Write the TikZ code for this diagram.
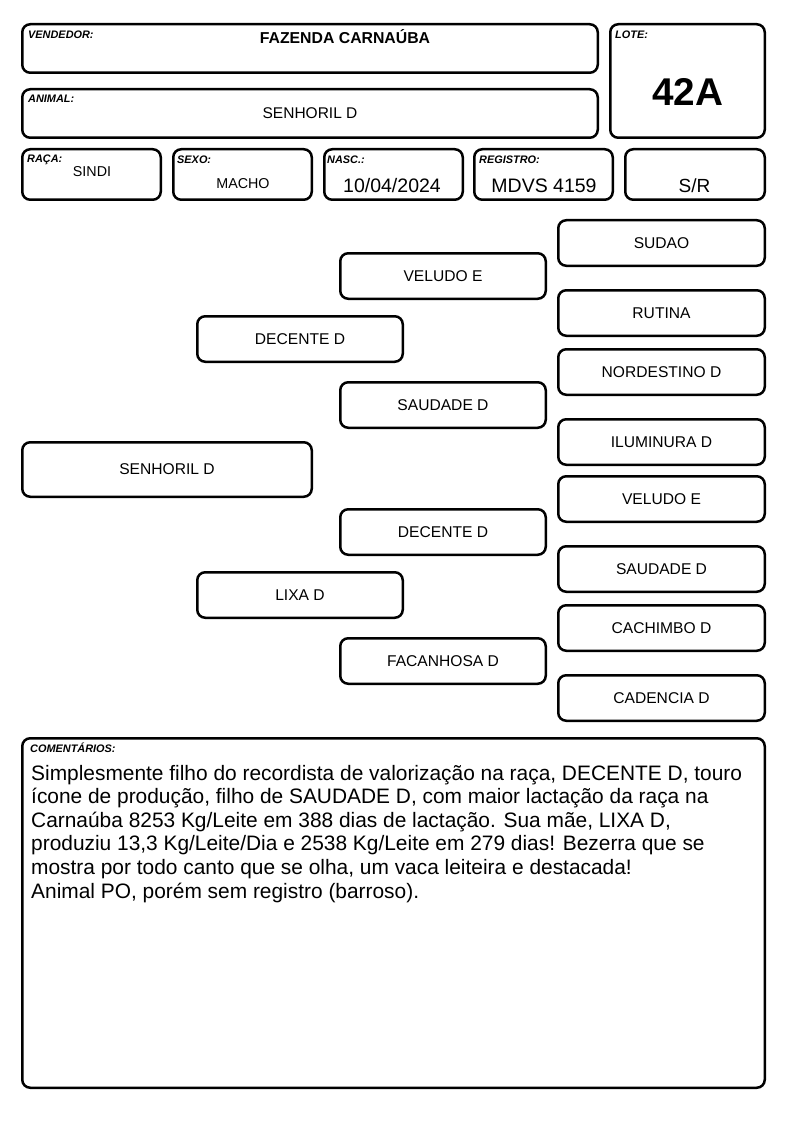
\documentclass[tikz,border=0pt]{standalone}
\usepackage{fontspec}
\setmainfont{Liberation Sans}
\newcommand\fs[1]{\fontsize{#1}{#1}\selectfont}
\begin{document}
\begin{tikzpicture}[x=1pt,y=-1pt,
  frame/.style={draw,line width=2.5pt,rounded corners=8pt,inner sep=0pt},
  tag/.style={inner sep=0pt,anchor=base west,font=\fs{10.9}\bfseries\itshape},
  val/.style={inner sep=0pt,anchor=base,font=\fs{15.5}},
  big/.style={inner sep=0pt,anchor=base,font=\fs{19.5}},
  pname/.style={font=\fs{15.6}},
  cmt/.style={inner sep=0pt,anchor=base west,font=\fs{20.9}}]
\useasboundingbox (0,0) rectangle (794,1123);
\newcommand\bx[6]{\node[frame,minimum width={#4-#2-2.5pt},minimum height={#5-#3-2.5pt},pname] (#1) at ({(#2+#4)/2},{(#3+#5)/2}) {#6};}
% header frames
\bx{vend}{21}{23}{599}{74}{}
\bx{lote}{609}{23}{766}{139}{}
\bx{anim}{21}{88}{599}{139}{}
\bx{raca}{21}{148}{162}{201}{}
\bx{sexo}{172}{148}{313}{201}{}
\bx{nasc}{323}{148}{464}{201}{}
\bx{reg}{473}{148}{614}{201}{}
\bx{sr}{624}{148}{766}{201}{}
% header labels
\node[tag] (tvend) at (28,39) {VENDEDOR:};
\node[tag] (tanim) at (28,103) {ANIMAL:};
\node[tag] (traca) at (27,163) {RAÇA:};
\node[tag] (tsexo) at (177,164) {SEXO:};
\node[tag] (tnasc) at (327,164) {NASC.:};
\node[tag] (treg) at (479,164) {REGISTRO:};
\node[tag] (tlote) at (615,39) {LOTE:};
% header values
\node[inner sep=0pt,anchor=base,font=\fs{15.8}\bfseries] (vvend) at (345,43.7) {FAZENDA CARNAÚBA};
\node[val] (vanim) at (310,118.5) {SENHORIL D};
\node[val,font=\fs{14.3}] (vraca) at (92,177) {SINDI};
\node[val,font=\fs{14.3}] (vsexo) at (243,189) {MACHO};
\node[big] (vnasc) at (392,193) {10/04/2024};
\node[big] (vreg) at (544,193) {MDVS 4159};
\node[big,font=\fs{19}] (vsr) at (694.5,193) {S/R};
\node[inner sep=0pt,anchor=base,font=\fs{38.7}\bfseries] (vlote) at (687.5,106) {42A};
% pedigree
\bx{p0}{21}{441}{313}{498}{SENHORIL D}
\bx{s}{196}{315}{404}{363}{DECENTE D}
\bx{d}{196}{571}{404}{619}{LIXA D}
\bx{ss}{339}{252}{547}{300}{VELUDO E}
\bx{sd}{339}{381}{547}{429}{SAUDADE D}
\bx{ds}{339}{508}{547}{556}{DECENTE D}
\bx{dd}{339}{637}{547}{685}{FACANHOSA D}
\bx{sss}{557}{219}{766}{267}{SUDAO}
\bx{ssd}{557}{289}{766}{337}{RUTINA}
\bx{sds}{557}{348}{766}{396}{NORDESTINO D}
\bx{sdd}{557}{418}{766}{466}{ILUMINURA D}
\bx{dss}{557}{475}{766}{523}{VELUDO E}
\bx{dsd}{557}{545}{766}{593}{SAUDADE D}
\bx{dds}{557}{604}{766}{652}{CACHIMBO D}
\bx{ddd}{557}{674}{766}{722}{CADENCIA D}
% comments
\bx{com}{21}{737}{766}{1089}{}
\node[tag] (tcom) at (30,752) {COMENTÁRIOS:};
\node[cmt] (c1) at (31,780) {Simplesmente filho do recordista de valorização na raça, DECENTE D, touro};
\node[cmt] (c2) at (31,803.6) {ícone de produção, filho de SAUDADE D, com maior lactação da raça na};
\node[cmt] (c3) at (31,827.2) {Carnaúba 8253 Kg/Leite em 388 dias de lactação. Sua mãe, LIXA D,};
\node[cmt] (c4) at (31,850.8) {produziu 13,3 Kg/Leite/Dia e 2538 Kg/Leite em 279 dias! Bezerra que se};
\node[cmt] (c5) at (31,874.4) {mostra por todo canto que se olha, um vaca leiteira e destacada!};
\node[cmt] (c6) at (31,898) {Animal PO, porém sem registro (barroso).};
\end{tikzpicture}
\end{document}
